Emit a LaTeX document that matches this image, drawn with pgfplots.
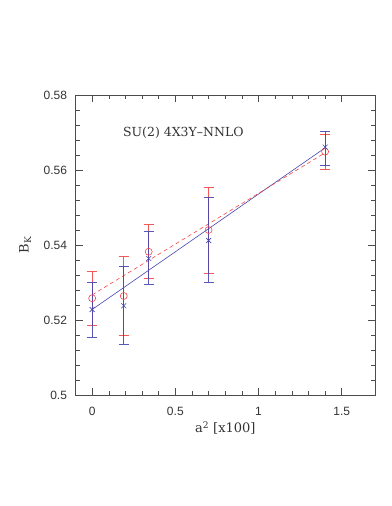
\documentclass[border=0pt]{standalone}
\usepackage{fontspec}
\setmainfont{DejaVu Serif}
\newfontfamily\tickfont{Liberation Sans}
\usepackage{pgfplots}
\pgfplotsset{compat=1.18}
\definecolor{myred}{RGB}{240,70,70}
\definecolor{myblue}{RGB}{70,70,175}
\begin{document}
\begin{tikzpicture}[x=1pt,y=1pt]
\path (0,0) rectangle (391,506);
\begin{axis}[
  at={(75.5pt,111pt)}, anchor=south west,
  scale only axis, width=299.5pt, height=300pt,
  xmin=-0.1, xmax=1.7, ymin=0.5, ymax=0.58,
  xtick={0,0.5,1,1.5}, ytick={0.5,0.52,0.54,0.56,0.58},
  minor x tick num=4, minor y tick num=4,
  tick align=inside, tick pos=both,
  major tick length=7pt, minor tick length=4pt,
  every tick/.style={black!70, line width=0.5pt},
  axis line style={black!70, line width=0.6pt},
  /pgf/number format/assume math mode=true,
  /pgf/number format/fixed,
  /pgf/number format/precision=2,
  tick label style={font=\tickfont\fontsize{12}{14}\selectfont, text=black!80},
  xticklabel style={yshift=-9pt},
  yticklabel style={xshift=-5pt},
  xlabel={a$^{\mathrm{2}}$ [x100]},
  ylabel={B$_\mathrm{K}$},
  label style={font=\fontsize{13}{15}\selectfont, text=black!80},
  xlabel style={at={(axis description cs:0.5,-0.11)}, anchor=center},
  ylabel style={at={(axis description cs:-0.168,0.5)}, anchor=center, rotate=0},
  clip=false,
]
% fit lines
\addplot[myblue, line width=0.6pt] coordinates {(0,0.5228) (1.40,0.5659)};
\addplot[myred, dashed, line width=0.6pt, dash pattern=on 4pt off 3pt] coordinates {(0,0.5267) (1.40,0.5646)};
% red data
\addplot[myred, only marks, mark=o, mark size=3.5pt, mark options={line width=0.6pt},
  error bars/.cd, y dir=both, y explicit,
  error bar style={line width=0.6pt, opacity=0.9},
  error mark options={rotate=90, mark size=5pt, line width=0.6pt}]
  table[x=x, y=y, y error plus=ep, y error minus=em] {
x y ep em
0 0.5258 0.0073 0.0073
0.19 0.5264 0.0105 0.0106
0.34 0.5382 0.0072 0.0071
0.70 0.5440 0.0114 0.0116
1.40 0.5649 0.0046 0.0046
};
% blue data
\addplot[myblue, only marks, mark=x, mark size=3.5pt, mark options={line width=0.6pt},
  error bars/.cd, y dir=both, y explicit,
  error bar style={line width=0.6pt, opacity=0.9},
  error mark options={rotate=90, mark size=5pt, line width=0.6pt}]
  table[x=x, y=y, y error plus=ep, y error minus=em] {
x y ep em
0 0.5228 0.0072 0.0073
0.19 0.5238 0.0104 0.0103
0.34 0.5364 0.0072 0.0069
0.70 0.5412 0.0114 0.0112
1.40 0.5661 0.0043 0.0049
};
\node[anchor=west, font=\fontsize{12.5}{14}\selectfont, text=black!80] at (axis cs:0.165,0.5699) {SU(2) 4X3Y--NNLO};
\end{axis}
\end{tikzpicture}
\end{document}
